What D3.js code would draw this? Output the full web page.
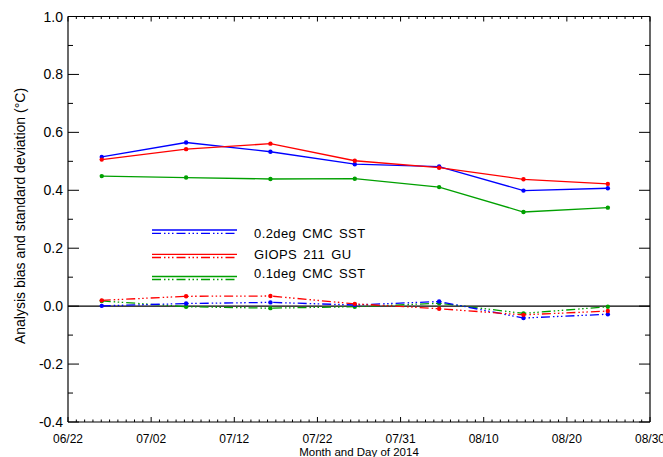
<!DOCTYPE html>
<html>
<head>
<meta charset="utf-8">
<script src="https://cdn.jsdelivr.net/npm/d3@7"></script>
<style>
  body { margin: 0; background: #fff; }
  text { font-family: "Liberation Sans", Arial, sans-serif; fill: #000; }
</style>
</head>
<body>
<div id="chart"></div>
<script>
// days since 2014-06-22
const days = [4, 14, 24, 34, 44, 54, 64];
const tickLabels = ["06/22", "07/02", "07/12", "07/22", "07/31", "08/10", "08/20", "08/30"];
const seriesNames = ["0.2deg CMC SST", "GIOPS 211 GU", "0.1deg CMC SST"];
const colors = ["#0000ff", "#ff0000", "#00a000"];

// standard deviation (solid)
const stdCMC02 = [0.515, 0.565, 0.533, 0.490, 0.482, 0.399, 0.407];
const stdGIOPS = [0.506, 0.542, 0.561, 0.502, 0.478, 0.438, 0.422];
const stdCMC01 = [0.449, 0.444, 0.439, 0.440, 0.411, 0.325, 0.340];

// bias (dash dot dot dot)
const biasCMC02 = [0.001, 0.009, 0.013, 0.004, 0.016, -0.041, -0.028];
const biasGIOPS = [0.020, 0.034, 0.035, 0.008, -0.009, -0.030, -0.017];
const biasCMC01 = [0.018, -0.002, -0.007, -0.002, 0.010, -0.025, -0.002];

const stds = [stdCMC02, stdGIOPS, stdCMC01];
const biases = [biasCMC02, biasGIOPS, biasCMC01];

const width = 663, height = 457;
const L = 68, R = 650, T = 16.5, B = 422;

const svg = d3.select("#chart").append("svg")
  .attr("width", width).attr("height", height);

const x = d3.scaleLinear().domain([0, 69]).range([L, R]);
const y = d3.scaleLinear().domain([-0.4, 1.0]).range([B, T]);

const dashStyle = "9,3,1.5,2.5,1.5,2.5,1.5,3";
const fmt = v => d3.format(".1f")(v).replace("\u2212", "-");

// frame
svg.append("line").attr("x1", L).attr("x2", L).attr("y1", T).attr("y2", B)
  .attr("stroke", "#444").attr("stroke-width", 1.6);
svg.append("line").attr("x1", R).attr("x2", R).attr("y1", T).attr("y2", B)
  .attr("stroke", "#000").attr("stroke-width", 1.2);
svg.append("line").attr("x1", L).attr("x2", R).attr("y1", B).attr("y2", B)
  .attr("stroke", "#000").attr("stroke-width", 1.2);
svg.append("line").attr("x1", L).attr("x2", R).attr("y1", T).attr("y2", T)
  .attr("stroke", "#000").attr("stroke-width", 1.2);

// y ticks (major 0.2, minor 0.1) on both sides
const yMajor = d3.range(-0.4, 1.0001, 0.2);
const yMinor = d3.range(-0.3, 1.0, 0.2);
const gy = svg.append("g");
yMajor.forEach(v => {
  gy.append("line").attr("x1", L).attr("x2", L + 11).attr("y1", y(v)).attr("y2", y(v)).attr("stroke", "#000");
  gy.append("line").attr("x1", R).attr("x2", R - 11).attr("y1", y(v)).attr("y2", y(v)).attr("stroke", "#000");
  gy.append("text").attr("x", 63).attr("y", y(v)).attr("dy", "0.36em")
    .attr("text-anchor", "end").attr("font-size", 14).text(fmt(v));
});
yMinor.forEach(v => {
  gy.append("line").attr("x1", L).attr("x2", L + 5).attr("y1", y(v)).attr("y2", y(v)).attr("stroke", "#000");
  gy.append("line").attr("x1", R).attr("x2", R - 5).attr("y1", y(v)).attr("y2", y(v)).attr("stroke", "#000");
});

// x ticks
const gx = svg.append("g");
const nMaj = tickLabels.length - 1;
d3.range(0, nMaj * 10 + 1).forEach(i => {
  const d = i * 69 / (nMaj * 10);
  const len = i % 10 === 0 ? 5 : 2.5;
  gx.append("line").attr("x1", x(d)).attr("x2", x(d)).attr("y1", B).attr("y2", B - len).attr("stroke", "#000");
  gx.append("line").attr("x1", x(d)).attr("x2", x(d)).attr("y1", T).attr("y2", T + len).attr("stroke", "#000");
});
tickLabels.forEach((t, i) => {
  gx.append("text").attr("x", x(i * 69 / nMaj)).attr("y", 443)
    .attr("text-anchor", "middle").attr("font-size", 12).text(t);
});

svg.append("text").attr("x", (L + R) / 2).attr("y", 455.5)
  .attr("text-anchor", "middle").attr("font-size", 11.5).text("Month and Day of 2014");

svg.append("text")
  .attr("transform", `translate(25,216) rotate(-90)`)
  .attr("text-anchor", "middle").attr("font-size", 14)
  .text("Analysis bias and standard deviation (\u00B0C)");

// zero line
svg.append("line").attr("x1", L).attr("x2", R).attr("y1", y(0)).attr("y2", y(0))
  .attr("stroke", "#000").attr("stroke-width", 1.2);

const line = d3.line().x((d, i) => x(days[i])).y(d => y(d));

function drawSeries(vals, color, dashed) {
  svg.append("path").datum(vals).attr("d", line)
    .attr("fill", "none").attr("stroke", color).attr("stroke-width", 1.3)
    .attr("stroke-dasharray", dashed ? dashStyle : null);
  svg.append("g").selectAll("circle").data(vals).join("circle")
    .attr("cx", (d, i) => x(days[i])).attr("cy", d => y(d)).attr("r", 2.2)
    .attr("fill", color);
}

[2, 0, 1].forEach(k => drawSeries(biases[k], colors[k], true));
[2, 0, 1].forEach(k => drawSeries(stds[k], colors[k], false));

// legend
const legRows = [
  { solid: 230, dash: 233.3, text: 238 },
  { solid: 254.3, dash: 257.5, text: 259 },
  { solid: 276.5, dash: 279.5, text: 278 }
];
seriesNames.forEach((name, i) => {
  const r = legRows[i];
  svg.append("line").attr("x1", 152).attr("x2", 237).attr("y1", r.solid).attr("y2", r.solid)
    .attr("stroke", colors[i]).attr("stroke-width", 1.3);
  svg.append("line").attr("x1", 152).attr("x2", 237).attr("y1", r.dash).attr("y2", r.dash)
    .attr("stroke", colors[i]).attr("stroke-width", 1.3).attr("stroke-dasharray", dashStyle);
  svg.append("text").attr("x", 254).attr("y", r.text).attr("font-size", 13)
    .attr("letter-spacing", 0.4).attr("word-spacing", 2).text(name);
});
</script>
</body>
</html>
